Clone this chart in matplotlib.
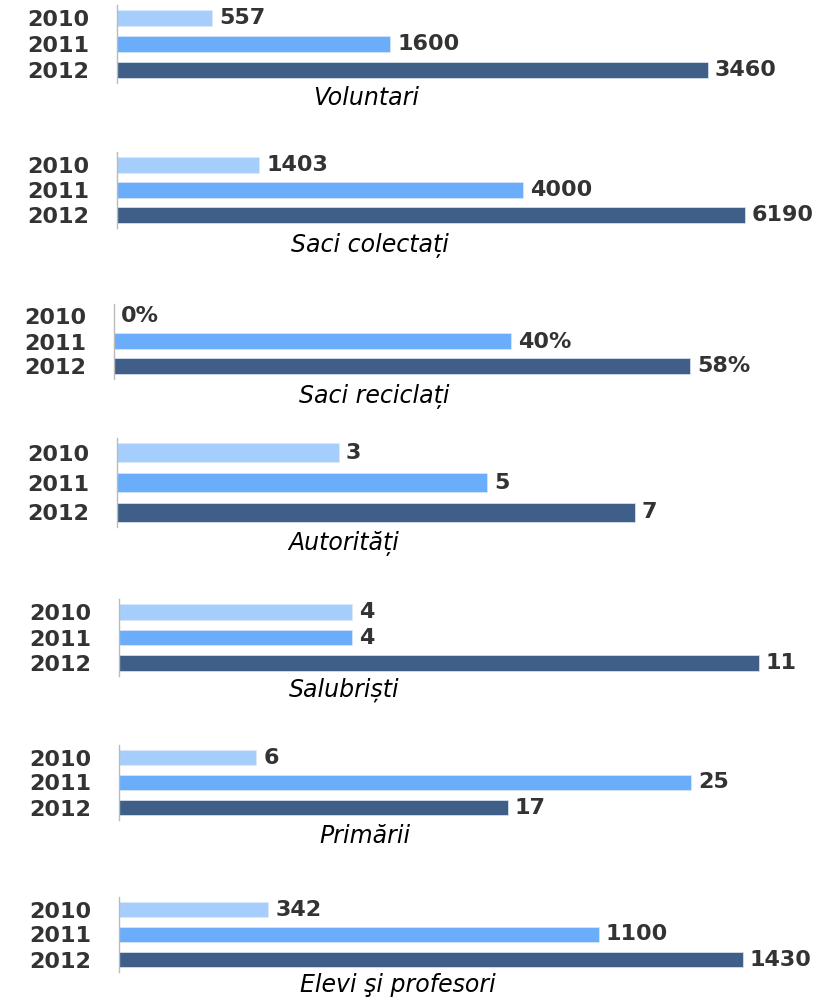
import matplotlib
matplotlib.use("Agg")
import matplotlib.pyplot as plt

# ---- data ----
years = ["2010", "2011", "2012"]
titles = ["Voluntari", "Saci colectați", "Saci reciclați", "Autorități",
          "Salubriști", "Primării", "Elevi şi profesori"]
voluntari = [557, 1600, 3460]
saci_colectati = [1403, 4000, 6190]
saci_reciclati = [0, 40, 58]
autoritati = [3, 5, 7]
salubristi = [4, 4, 11]
primarii = [6, 25, 17]
elevi_profesori = [342, 1100, 1430]
series = [voluntari, saci_colectati, saci_reciclati, autoritati,
          salubristi, primarii, elevi_profesori]
label_suffix = ["", "", "%", "", "", "", ""]

# ---- layout (pixels) ----
W, H = 824, 997
# (spine_left_x, spine_top_y, spine_bottom_y, pixel where largest bar ends, title_x, title_y)
layout = [
    (117, 5, 83, 708, 366, 98),
    (117, 152, 228, 745, 370, 245),
    (114, 304, 379, 690, 374, 396),
    (117, 438, 527, 635, 344, 543),
    (119, 599, 676, 759, 344, 690),
    (119, 745, 820, 691, 365, 836),
    (119, 897, 972, 743, 398, 985),
]
bar_heights = [0.62, 0.62, 0.64, 0.64, 0.62, 0.62, 0.62]
colors = ["#A6CEFC", "#6AADFA", "#3F5F88"]
text_color = "#333333"
right_px = 810

fig = plt.figure(figsize=(W / 100, H / 100), dpi=100)
fig.patch.set_facecolor("white")

for vals, title, suf, (lx, ty, by, endx, tx, tyy), bh in zip(
        series, titles, label_suffix, layout, bar_heights):
    ax = fig.add_axes([lx / W, 1 - by / H, (right_px - lx) / W, (by - ty) / H])
    vmax = max(vals)
    xmax = vmax * (right_px - lx) / (endx - lx)
    ax.barh(range(len(years)), vals, height=bh, color=colors,
            edgecolor="#DDE9F8", linewidth=0.5)
    ax.set_xlim(0, xmax)
    ax.set_ylim(2.5, -0.5)
    ax.set_yticks(range(len(years)))
    ax.set_yticklabels(years, fontsize=16, fontweight="bold", color=text_color)
    ax.tick_params(axis="y", length=0, pad=20)
    ax.set_xticks([])
    for s in ["top", "right", "bottom"]:
        ax.spines[s].set_visible(False)
    ax.spines["left"].set_color("#BBBBBB")
    ax.spines["left"].set_linewidth(1.0)
    ax.set_facecolor("none")
    for i, v in enumerate(vals):
        ax.annotate(f"{v}{suf}", xy=(v, i), xytext=(5, 0),
                    textcoords="offset points", va="center", ha="left",
                    fontsize=16, fontweight="bold", color=text_color)
    fig.text(tx / W, 1 - tyy / H, title, ha="center", va="center",
             fontsize=17, style="italic", color="#000000")

fig.savefig("out.png", dpi=100, facecolor="white")
